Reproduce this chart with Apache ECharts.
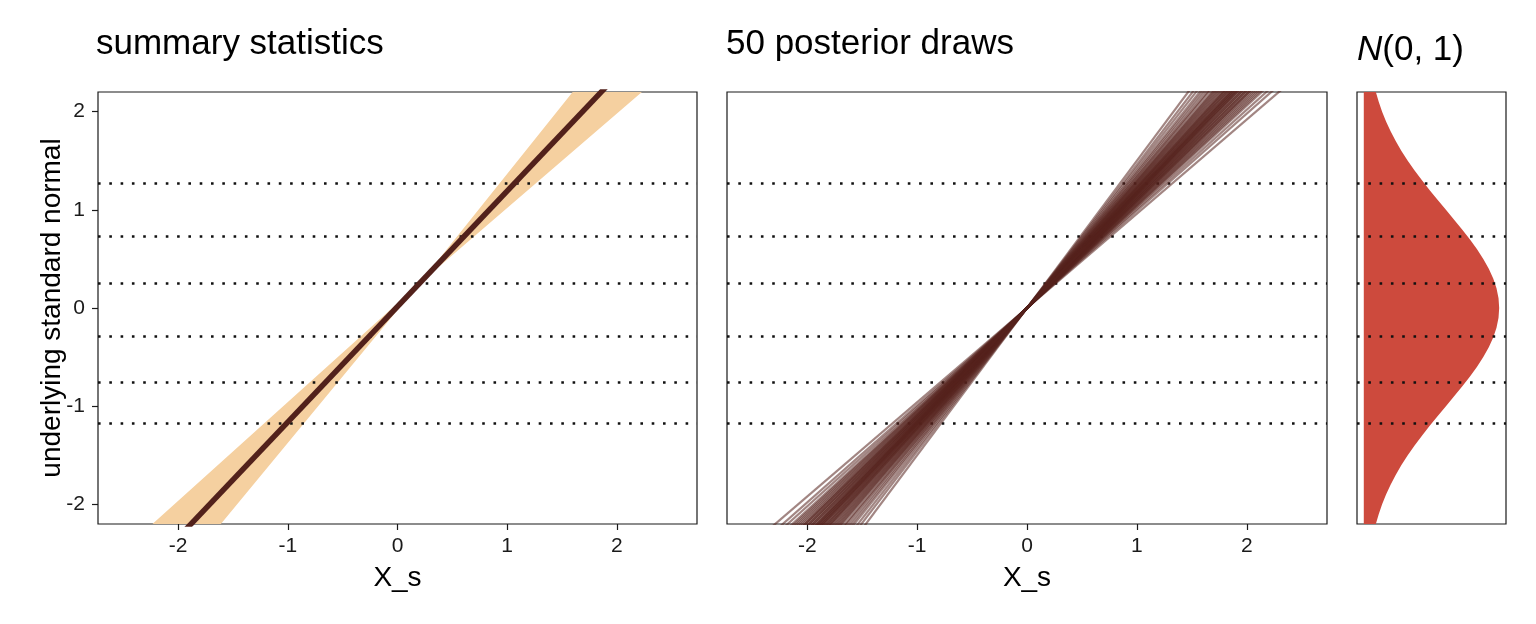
<!DOCTYPE html>
<html><head><meta charset="utf-8">
<script src="https://cdn.jsdelivr.net/npm/echarts@6/dist/echarts.min.js"></script>
<style>html,body{margin:0;padding:0;background:#fff}#c{width:1536px;height:624px}</style>
</head><body><div id="c"></div>
<script>
// ---- data ----
const xTicks = [-2, -1, 0, 1, 2];
const yTicks = [-2, -1, 0, 1, 2];
const thresholds = [1.266, 0.733, 0.251, -0.287, -0.764, -1.171];
// summary band (edges are straight lines; corner values)
const bandX  = [-2.8, 0.2, 2.8];
const bandLo = [-3.81, 0.25, 2.75];
const bandHi = [-2.77, 0.25, 3.88];
// median line
const medianX = [-2.8, 2.8];
const medianY = [-3.28, 3.31];
// 50 posterior draws: slopes of lines through the origin
const drawSlopes = [1.18, 1.05, 1.31, 0.96, 1.21, 1.13, 1.40, 1.09, 1.23, 1.16,
                    1.01, 1.27, 1.11, 1.34, 1.19, 1.07, 1.25, 1.15, 1.46, 1.12,
                    1.20, 0.99, 1.29, 1.17, 1.09, 1.36, 1.13, 1.22, 1.04, 1.26,
                    1.18, 1.50, 1.10, 1.23, 1.15, 1.06, 1.30, 1.19, 1.43, 1.11,
                    1.24, 1.03, 1.28, 1.16, 1.38, 1.08, 1.21, 1.14, 1.33, 1.17];
// N(0,1) density
const densY = [-2.2,-2.1,-2.0,-1.9,-1.8,-1.7,-1.6,-1.5,-1.4,-1.3,-1.2,-1.1,-1.0,-0.9,-0.8,-0.7,-0.6,-0.5,-0.4,-0.3,-0.2,-0.1,
               0.0,0.1,0.2,0.3,0.4,0.5,0.6,0.7,0.8,0.9,1.0,1.1,1.2,1.3,1.4,1.5,1.6,1.7,1.8,1.9,2.0,2.1,2.2];
const densX = [0.0355,0.0440,0.0540,0.0656,0.0790,0.0940,0.1109,0.1295,0.1497,0.1714,0.1942,0.2179,0.2420,0.2661,0.2897,0.3123,0.3332,0.3521,0.3683,0.3814,0.3910,0.3970,
               0.3989,0.3970,0.3910,0.3814,0.3683,0.3521,0.3332,0.3123,0.2897,0.2661,0.2420,0.2179,0.1942,0.1714,0.1497,0.1295,0.1109,0.0940,0.0790,0.0656,0.0540,0.0440,0.0355];

const FONT = 'Liberation Sans, Arial, Helvetica, sans-serif';
const chart = echarts.init(document.getElementById('c'), null, {renderer: 'canvas'});

const grids = [
  {left: 98, top: 92, width: 599, height: 432},
  {left: 727, top: 92, width: 600, height: 432},
  {left: 1357, top: 92, width: 149, height: 432}
].map(g => Object.assign(g, {show: true, borderColor: '#1a1a1a', borderWidth: 1.2, backgroundColor: 'transparent', containLabel: false, outerBoundsMode: 'none'}));

function xAxisDef(gi, showLabels, min, max) {
  return {
    gridIndex: gi, type: 'value', min: min, max: max,
    axisLine: {show: false, onZero: false}, splitLine: {show: false},
    axisTick: {show: showLabels, customValues: xTicks, length: 6, lineStyle: {color: '#1a1a1a', width: 1.2}},
    axisLabel: {show: showLabels, customValues: xTicks, fontSize: 21, color: '#1a1a1a', margin: 12, fontFamily: FONT},
    name: showLabels ? 'X_s' : '', nameLocation: 'middle', nameGap: 40, nameMoveOverlap: false,
    nameTextStyle: {fontSize: 28, color: '#000', fontFamily: FONT}
  };
}
function yAxisDef(gi, showLabels) {
  return {
    gridIndex: gi, type: 'value', min: -2.2, max: 2.2,
    axisLine: {show: false, onZero: false}, splitLine: {show: false},
    axisTick: {show: showLabels, customValues: yTicks, length: 6, lineStyle: {color: '#1a1a1a', width: 1.2}},
    axisLabel: {show: showLabels, customValues: yTicks, fontSize: 21, color: '#1a1a1a', margin: 13, fontFamily: FONT},
    name: showLabels ? 'underlying standard normal' : '', nameLocation: 'middle', nameGap: 32, nameMoveOverlap: false,
    nameTextStyle: {fontSize: 28, color: '#000', fontFamily: FONT}
  };
}

function dotted(xi, yi) {
  return {
    type: 'line', xAxisIndex: xi, yAxisIndex: yi, data: [], z: 20,
    markLine: {
      silent: true, symbol: ['none', 'none'], animation: false,
      label: {show: false},
      lineStyle: {color: '#111', width: 2.6, type: [2.6, 8.7], cap: 'butt'},
      data: thresholds.map(v => ({yAxis: v}))
    }
  };
}

const series = [];
// band
series.push({
  type: 'custom', xAxisIndex: 0, yAxisIndex: 0, clip: true, z: 1,
  data: [[0, 0]],
  renderItem: (params, api) => {
    const pts = [];
    for (let i = 0; i < bandX.length; i++) pts.push(api.coord([bandX[i], bandHi[i]]));
    for (let i = bandX.length - 1; i >= 0; i--) pts.push(api.coord([bandX[i], bandLo[i]]));
    return {type: 'polygon', shape: {points: pts}, style: {fill: '#F5D0A0'},
            clipPath: {type: 'rect', shape: {x: params.coordSys.x, y: params.coordSys.y, width: params.coordSys.width, height: params.coordSys.height}}};
  }
});
// median line
series.push({
  type: 'line', xAxisIndex: 0, yAxisIndex: 0, clip: true, z: 5, symbol: 'none',
  data: medianX.map((x, i) => [x, medianY[i]]),
  lineStyle: {color: '#52211B', width: 5.5}
});
series.push(dotted(0, 0));
// posterior draws
drawSlopes.forEach(s => {
  series.push({
    type: 'line', xAxisIndex: 1, yAxisIndex: 1, clip: true, z: 5, symbol: 'none', silent: true,
    data: [[-2.8, -2.8 * s], [2.8, 2.8 * s]],
    lineStyle: {color: '#55231D', width: 2.2, opacity: 0.55}
  });
});
series.push(dotted(1, 1));
// density
series.push({
  type: 'custom', xAxisIndex: 2, yAxisIndex: 2, clip: true, z: 1,
  data: [[0, 0]],
  renderItem: (params, api) => {
    const pts = [api.coord([0, densY[0]])];
    for (let i = 0; i < densY.length; i++) pts.push(api.coord([densX[i], densY[i]]));
    pts.push(api.coord([0, densY[densY.length - 1]]));
    return {type: 'polygon', shape: {points: pts}, style: {fill: '#CD4A3D'}};
  }
});
series.push(dotted(2, 2));

const option = {
  animation: false,
  backgroundColor: '#fff',
  title: [
    {text: 'summary statistics', left: 96, top: 27, padding: 0, textStyle: {fontSize: 35, fontWeight: 'normal', color: '#000', fontFamily: FONT}},
    {text: '50 posterior draws', left: 726, top: 27, padding: 0, textStyle: {fontSize: 35, fontWeight: 'normal', color: '#000', fontFamily: FONT}},
    {text: '{i|N}{p|(0, 1)}', left: 1357, top: 33, padding: 0,
     textStyle: {fontWeight: 'normal', rich: {
       i: {fontSize: 35, fontStyle: 'italic', fontWeight: 'normal', color: '#000', fontFamily: FONT},
       p: {fontSize: 35, fontWeight: 'normal', color: '#000', fontFamily: FONT}
     }}}
  ],
  grid: grids,
  xAxis: [xAxisDef(0, true, -2.73, 2.73), xAxisDef(1, true, -2.73, 2.73), xAxisDef(2, false, -0.02, 0.419)],
  yAxis: [yAxisDef(0, true), yAxisDef(1, false), yAxisDef(2, false)],
  series: series
};
chart.setOption(option);
</script></body></html>
